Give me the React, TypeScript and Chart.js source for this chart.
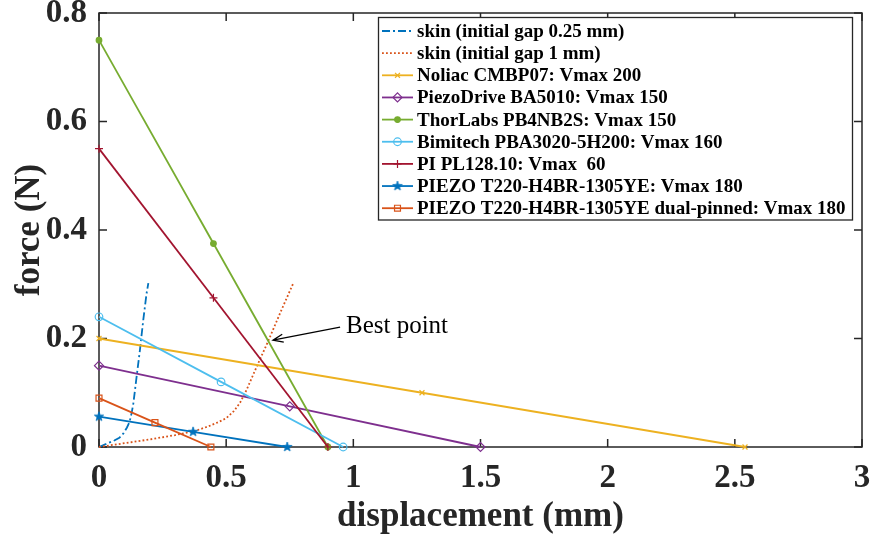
import React, { useEffect, useRef } from 'react';
import { Chart, registerables } from 'chart.js';
import { drawPoint } from 'chart.js/helpers';

Chart.register(...registerables);

// ---------- data ----------
const X_TICKS = [0, 0.5, 1, 1.5, 2, 2.5, 3];
const Y_TICKS = [0, 0.2, 0.4, 0.6, 0.8];
const X_TITLE = 'displacement (mm)';
const Y_TITLE = 'force (N)';

const SERIES_NAMES = [
  'skin (initial gap 0.25 mm)',
  'skin (initial gap 1 mm)',
  'Noliac CMBP07: Vmax 200',
  'PiezoDrive BA5010: Vmax 150',
  'ThorLabs PB4NB2S: Vmax 150',
  'Bimitech PBA3020-5H200: Vmax 160',
  'PI PL128.10: Vmax  60',
  'PIEZO T220-H4BR-1305YE: Vmax 180',
  'PIEZO T220-H4BR-1305YE dual-pinned: Vmax 180',
];

const skin025X = [0, 0.03, 0.06, 0.08, 0.096, 0.11, 0.12, 0.128, 0.135, 0.148, 0.161, 0.174, 0.187, 0.194];
const skin025Y = [0, 0.006, 0.012, 0.017, 0.025, 0.036, 0.046, 0.062, 0.08, 0.13, 0.179, 0.234, 0.283, 0.302];

const skin1X = [0, 0.1, 0.2, 0.3, 0.38, 0.43, 0.47, 0.5, 0.53, 0.555, 0.58, 0.62, 0.666, 0.715, 0.764];
const skin1Y = [0, 0.007, 0.014, 0.022, 0.03, 0.038, 0.046, 0.053, 0.066, 0.082, 0.105, 0.148, 0.196, 0.25, 0.302];

const noliacX = [0, 1.27, 2.54];
const noliacY = [0.2, 0.1, 0];
const piezoDriveX = [0, 0.75, 1.5];
const piezoDriveY = [0.15, 0.075, 0];
const thorlabsX = [0, 0.45, 0.9];
const thorlabsY = [0.75, 0.375, 0];
const bimitechX = [0, 0.48, 0.96];
const bimitechY = [0.24, 0.12, 0];
const piX = [0, 0.45, 0.9];
const piY = [0.55, 0.275, 0];
const t220X = [0, 0.37, 0.74];
const t220Y = [0.056, 0.028, 0];
const dualX = [0, 0.22, 0.44];
const dualY = [0.09, 0.045, 0];

const ANNOT_TEXT = 'Best point';
const ANNOT_TIP = [0.684, 0.197];
const ANNOT_TAIL = [0.948, 0.221];
const ANNOT_TEXT_POS = [0.971, 0.222];

// ---------- styles ----------
const C_BLUE = '#0072BD';
const C_ORANGE = '#D95319';
const C_YELLOW = '#EDB120';
const C_PURPLE = '#7E2F8E';
const C_GREEN = '#77AC30';
const C_CYAN = '#4DBEEE';
const C_RED = '#A2142F';
const AXIS_COLOR = '#262626';
const SERIF = '"Liberation Serif", "Times New Roman", serif';

function makePentagram(color: string, r: number): HTMLCanvasElement {
  const c = document.createElement('canvas');
  const s = Math.ceil(r * 2 + 2);
  c.width = s;
  c.height = s;
  const ctx = c.getContext('2d')!;
  ctx.beginPath();
  for (let i = 0; i < 10; i++) {
    const rad = i % 2 === 0 ? r : r * 0.4;
    const a = -Math.PI / 2 + (i * Math.PI) / 5;
    const px = s / 2 + rad * Math.cos(a);
    const py = s / 2 + rad * Math.sin(a);
    if (i === 0) ctx.moveTo(px, py);
    else ctx.lineTo(px, py);
  }
  ctx.closePath();
  ctx.fillStyle = color;
  ctx.fill();
  ctx.strokeStyle = color;
  ctx.lineWidth = 0.8;
  ctx.stroke();
  return c;
}

const pts = (xs: number[], ys: number[]) => xs.map((x, i) => ({ x, y: ys[i] }));

const LEG = {
  left: 378.5,
  top: 17.5,
  right: 852.5,
  bottom: 220,
  firstRow: 31,
  rowGap: 22.15,
  lineX0: 382,
  lineX1: 413,
  textX: 417,
};

const boxPlugin = {
  id: 'matlabBox',
  beforeDatasetsDraw(chart: any) {
    const { ctx, chartArea: a, scales } = chart;
    ctx.save();
    ctx.strokeStyle = AXIS_COLOR;
    ctx.lineWidth = 1.5;
    ctx.strokeRect(a.left, a.top, a.right - a.left, a.bottom - a.top);
    const tl = 8;
    ctx.beginPath();
    X_TICKS.forEach((v) => {
      const x = scales.x.getPixelForValue(v);
      ctx.moveTo(x, a.bottom);
      ctx.lineTo(x, a.bottom - tl);
      ctx.moveTo(x, a.top);
      ctx.lineTo(x, a.top + tl);
    });
    Y_TICKS.forEach((v) => {
      const y = scales.y.getPixelForValue(v);
      ctx.moveTo(a.left, y);
      ctx.lineTo(a.left + tl, y);
      ctx.moveTo(a.right, y);
      ctx.lineTo(a.right - tl, y);
    });
    ctx.stroke();
    ctx.restore();
  },
};

const annotPlugin = {
  id: 'annot',
  afterDatasetsDraw(chart: any) {
    const { ctx, scales } = chart;
    const tx = scales.x.getPixelForValue(ANNOT_TIP[0]);
    const ty = scales.y.getPixelForValue(ANNOT_TIP[1]);
    const sx = scales.x.getPixelForValue(ANNOT_TAIL[0]);
    const sy = scales.y.getPixelForValue(ANNOT_TAIL[1]);
    ctx.save();
    ctx.strokeStyle = '#000';
    ctx.lineWidth = 1.3;
    ctx.beginPath();
    ctx.moveTo(sx, sy);
    ctx.lineTo(tx, ty);
    const ang = Math.atan2(sy - ty, sx - tx);
    const len = 11;
    const hw = 0.38;
    ctx.moveTo(tx + len * Math.cos(ang + hw), ty + len * Math.sin(ang + hw));
    ctx.lineTo(tx, ty);
    ctx.lineTo(tx + len * Math.cos(ang - hw), ty + len * Math.sin(ang - hw));
    ctx.stroke();
    ctx.fillStyle = '#000';
    ctx.font = `25px ${SERIF}`;
    ctx.textAlign = 'left';
    ctx.textBaseline = 'middle';
    ctx.fillText(
      ANNOT_TEXT,
      scales.x.getPixelForValue(ANNOT_TEXT_POS[0]),
      scales.y.getPixelForValue(ANNOT_TEXT_POS[1])
    );
    ctx.restore();
  },
};

const legendPlugin = {
  id: 'matlabLegend',
  afterDraw(chart: any) {
    const { ctx } = chart;
    ctx.save();
    ctx.fillStyle = '#fff';
    ctx.fillRect(LEG.left, LEG.top, LEG.right - LEG.left, LEG.bottom - LEG.top);
    ctx.strokeStyle = AXIS_COLOR;
    ctx.lineWidth = 1.3;
    ctx.strokeRect(LEG.left, LEG.top, LEG.right - LEG.left, LEG.bottom - LEG.top);
    chart.data.datasets.forEach((ds: any, i: number) => {
      const y = LEG.firstRow + i * LEG.rowGap;
      ctx.strokeStyle = ds.borderColor;
      ctx.lineWidth = ds.borderWidth;
      ctx.setLineDash(ds.borderDash || []);
      ctx.beginPath();
      ctx.moveTo(LEG.lineX0, y);
      ctx.lineTo(LEG.lineX1, y);
      ctx.stroke();
      ctx.setLineDash([]);
      if (ds.pointRadius > 0) {
        ctx.fillStyle = ds.pointBackgroundColor;
        ctx.strokeStyle = ds.pointBorderColor || ds.borderColor;
        ctx.lineWidth = ds.pointBorderWidth;
        drawPoint(
          ctx,
          { pointStyle: ds.pointStyle, radius: ds.pointRadius, rotation: 0, borderWidth: ds.pointBorderWidth } as any,
          (LEG.lineX0 + LEG.lineX1) / 2,
          y
        );
      }
      ctx.fillStyle = '#000';
      ctx.font = `bold 19px ${SERIF}`;
      ctx.textAlign = 'left';
      ctx.textBaseline = 'middle';
      ctx.fillText(ds.label, LEG.textX, y + 1);
    });
    ctx.restore();
  },
};

export default function App() {
  const ref = useRef<HTMLCanvasElement | null>(null);

  useEffect(() => {
    if (!ref.current) return;
    const star = makePentagram(C_BLUE, 5);
    const none = 'rgba(0,0,0,0)';
    const base = { showLine: true, clip: false as any, borderWidth: 1.8, tension: 0, pointBorderWidth: 1.2 };
    const datasets: any[] = [
      { ...base, label: SERIES_NAMES[0], data: pts(skin025X, skin025Y), borderColor: C_BLUE, backgroundColor: C_BLUE, borderDash: [8, 3, 2, 3], pointRadius: 0 },
      { ...base, label: SERIES_NAMES[1], data: pts(skin1X, skin1Y), borderColor: C_ORANGE, backgroundColor: C_ORANGE, borderDash: [1.8, 2.2], pointRadius: 0 },
      { ...base, label: SERIES_NAMES[2], data: pts(noliacX, noliacY), borderColor: C_YELLOW, pointBackgroundColor: none, pointStyle: 'crossRot', pointRadius: 3.5 },
      { ...base, label: SERIES_NAMES[3], data: pts(piezoDriveX, piezoDriveY), borderColor: C_PURPLE, pointBackgroundColor: none, pointStyle: 'rectRot', pointRadius: 4.5 },
      { ...base, label: SERIES_NAMES[4], data: pts(thorlabsX, thorlabsY), borderColor: C_GREEN, pointBackgroundColor: C_GREEN, pointStyle: 'circle', pointRadius: 2.8 },
      { ...base, label: SERIES_NAMES[5], data: pts(bimitechX, bimitechY), borderColor: C_CYAN, pointBackgroundColor: none, pointStyle: 'circle', pointRadius: 3.8 },
      { ...base, label: SERIES_NAMES[6], data: pts(piX, piY), borderColor: C_RED, pointBackgroundColor: none, pointStyle: 'cross', pointRadius: 4 },
      { ...base, label: SERIES_NAMES[7], data: pts(t220X, t220Y), borderColor: C_BLUE, pointBackgroundColor: C_BLUE, pointStyle: star, pointRadius: 5 },
      { ...base, label: SERIES_NAMES[8], data: pts(dualX, dualY), borderColor: C_ORANGE, pointBackgroundColor: none, pointStyle: 'rect', pointRadius: 4.2 },
    ];
    datasets.forEach((d, i) => {
      d.order = datasets.length - i;
      d.pointBorderColor = d.borderColor;
      d.pointHoverRadius = d.pointRadius;
    });

    const tickFont = { family: SERIF, size: 33, weight: 'bold' as const };
    const titleFont = { family: SERIF, size: 35, weight: 'bold' as const };
    const fmt = (v: any) => String(Math.round(Number(v) * 100) / 100);

    const chart = new Chart(ref.current, {
      type: 'scatter',
      data: { datasets },
      options: {
        animation: false,
        responsive: false,
        devicePixelRatio: 1,
        layout: { padding: { top: 13, right: 11, left: 0, bottom: 0 } },
        plugins: { legend: { display: false }, tooltip: { enabled: false } },
        events: [],
        scales: {
          x: {
            type: 'linear',
            min: 0,
            max: 3,
            grid: { display: false },
            border: { display: false },
            afterBuildTicks: (s: any) => {
              s.ticks = X_TICKS.map((value) => ({ value }));
            },
            afterFit: (s: any) => {
              s.height = 93;
              s.paddingLeft = 0;
              s.paddingRight = 0;
            },
            ticks: { font: tickFont, color: AXIS_COLOR, padding: 4, maxRotation: 0, autoSkip: false, callback: fmt },
            title: { display: true, text: X_TITLE, font: titleFont, color: AXIS_COLOR, padding: { top: 0, bottom: 2 } },
          },
          y: {
            type: 'linear',
            min: 0,
            max: 0.8,
            grid: { display: false },
            border: { display: false },
            afterBuildTicks: (s: any) => {
              s.ticks = Y_TICKS.map((value) => ({ value }));
            },
            afterFit: (s: any) => {
              s.width = 99;
              s.paddingTop = 0;
              s.paddingBottom = 0;
            },
            ticks: { font: tickFont, color: AXIS_COLOR, padding: 4, autoSkip: false, callback: fmt },
            title: { display: true, text: Y_TITLE, font: titleFont, color: AXIS_COLOR, padding: { top: 9, bottom: 0 } },
          },
        },
      },
      plugins: [boxPlugin, annotPlugin, legendPlugin],
    });
    return () => chart.destroy();
  }, []);

  return (
    <div style={{ position: 'absolute', left: 0, top: 0, width: 873, height: 540, background: '#fff' }}>
      <canvas ref={ref} width={873} height={540} style={{ width: 873, height: 540, display: 'block' }} />
    </div>
  );
}
